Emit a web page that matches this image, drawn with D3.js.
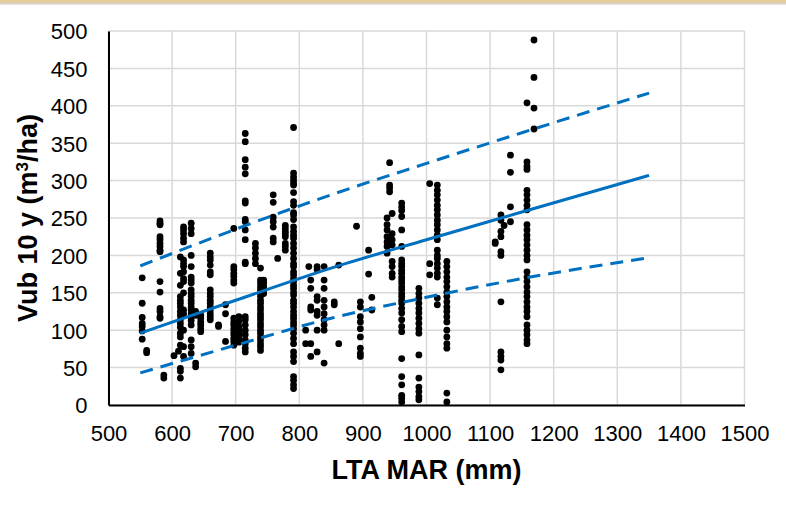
<!DOCTYPE html>
<html>
<head>
<meta charset="utf-8">
<script src="https://cdn.jsdelivr.net/npm/d3@7"></script>
<style>
  html, body { margin: 0; padding: 0; background: #ffffff; }
  svg { display: block; }
</style>
</head>
<body>
<svg id="chart" width="786" height="515"></svg>
<script>
// Axis ticks
const xTicks = [500, 600, 700, 800, 900, 1000, 1100, 1200, 1300, 1400, 1500];
const yTicks = [0, 50, 100, 150, 200, 250, 300, 350, 400, 450, 500];

// Long-term average mean annual rainfall of each site (mm)
const siteMAR = [
  553, 560, 581, 587, 603, 610, 613, 618, 630, 637, 645, 660, 673, 684, 697, 705,
  715, 731, 739, 744, 759, 766, 778, 791, 810, 815, 818, 828, 839, 855, 862, 890,
  896, 909, 914, 938, 942, 946, 961, 988, 1005, 1017, 1032, 1108, 1117, 1122, 1132,
  1158, 1169
];

// Stem volume after 10 years (m³/ha) of the plots at each site
const siteVub = [
  [170, 136, 117, 109, 105, 99, 88],
  [73, 70],
  [246, 243, 241, 225, 221, 216, 212, 207, 205, 165, 151, 129, 125, 118, 116],
  [40, 36],
  [66],
  [72],
  [198, 176, 160, 145, 140, 136, 131, 125, 120, 114, 109, 104, 96, 91, 80, 49, 45, 36],
  [238, 234, 229, 223, 218, 194, 189, 185, 178, 169, 165, 150, 127, 122, 100, 78, 65],
  [243, 236, 229, 200, 185, 171, 167, 163, 154, 149, 145, 140, 136, 131, 127, 122, 118, 113, 107, 87, 78, 69],
  [125, 120, 56, 51],
  [120, 116, 111, 107, 102, 98],
  [203, 198, 194, 187, 178, 174, 154, 149, 145, 140, 136, 131, 127, 122, 118, 114],
  [107, 105],
  [134, 122, 85],
  [236, 185, 181, 176, 172, 167, 163, 116, 111, 107, 102, 98, 94, 89, 85, 80],
  [118, 112, 105, 100, 96, 92, 88, 84],
  [363, 352, 328, 318, 309, 273, 270, 248, 245, 234, 221, 191, 189, 118, 114, 107, 100, 94, 87, 82, 76, 71],
  [216, 210, 203, 196, 189],
  [183, 167, 163, 158, 154, 149, 145, 140, 136, 131, 127, 122, 118, 114, 109, 105, 100, 96, 91, 87, 82, 78, 73],
  [167, 163, 158, 154, 149],
  [281, 271, 251, 245, 238, 223, 218],
  [196],
  [240, 236, 232, 229, 225, 216, 212, 207],
  [371, 310, 305, 301, 297, 294, 284, 272, 267, 257, 254, 248, 238, 232, 227, 223, 216, 210, 203, 196,
   189, 185, 178, 174, 169, 165, 160, 156, 151, 147, 140, 136, 131, 125, 120, 116, 111, 107, 102, 96,
   89, 82, 71, 65, 58, 38, 33, 27, 22],
  [100, 82],
  [185],
  [167, 156, 131, 127, 82, 65],
  [185, 181, 145, 140, 125, 120, 100, 71],
  [185, 167, 156, 140, 131, 122, 114, 107, 100, 56],
  [138, 134],
  [187, 82],
  [239],
  [138, 131, 118, 111, 102, 91, 76, 69, 65],
  [207, 175],
  [144, 127],
  [250, 241, 234, 225, 218, 212, 203],
  [324, 294, 290, 285],
  [256, 229, 221, 214, 192, 185, 176, 171],
  [270, 265, 260, 252, 234, 212, 194, 189, 185, 180, 176, 171, 167, 163, 158, 154, 149, 145, 140, 136,
   129, 123, 114, 105, 98, 62, 38, 27, 13, 9, 4],
  [156, 149, 143, 136, 129, 123, 116, 109, 102, 96, 67, 36, 24, 18, 11, 7],
  [296, 189, 174],
  [294, 287, 281, 274, 267, 261, 254, 247, 241, 234, 227, 221, 207, 200, 196, 189, 183, 176, 171, 143, 134],
  [192, 185, 178, 171, 165, 158, 151, 145, 138, 131, 125, 118, 111, 100, 91, 82, 76, 16, 4],
  [218, 216],
  [254, 247, 232, 225, 205, 200, 138, 71, 65, 60, 47],
  [240],
  [334, 311, 265, 245],
  [404, 325, 319, 315, 287, 281, 274, 267, 261, 241, 234, 227, 221, 214, 207, 200, 194, 178, 171, 165,
   158, 151, 145, 138, 131, 125, 118, 107, 100, 94, 87, 82],
  [488, 438, 397, 369]
];

// Fitted relation and its upper / lower bounds
const curveMAR = [550, 700, 850, 1000, 1150, 1350];
const fitVub   = [96, 140, 183, 221, 258, 307];
const upperVub = [186, 235, 281, 323, 364, 417];
const lowerVub = [43, 80, 116, 144, 169, 197];

const svg = d3.select("#chart");
const plotLeft = 108.5, plotRight = 744.5, plotTop = 31, plotBottom = 405;
const fontFamily = "Liberation Sans, Arial, sans-serif";

const x = d3.scaleLinear().domain([500, 1500]).range([plotLeft, plotRight]);
const y = d3.scaleLinear().domain([0, 500]).range([plotBottom, plotTop]);

// Decorative strip along the top of the frame
svg.append("rect").attr("x", 0).attr("y", 0).attr("width", 786).attr("height", 3)
  .attr("fill", "#e5cd9f");
svg.append("line").attr("x1", 0).attr("x2", 786).attr("y1", 3.8).attr("y2", 3.8)
  .attr("stroke", "#cfc8bc").attr("stroke-width", 1.2);

// Gridlines
const grid = svg.append("g").attr("stroke", "#d9d9d9").attr("stroke-width", 1.5);
grid.selectAll("line.h").data(yTicks).join("line").attr("class", "h")
  .attr("x1", plotLeft).attr("x2", plotRight)
  .attr("y1", d => y(d)).attr("y2", d => y(d));
grid.selectAll("line.v").data(xTicks).join("line").attr("class", "v")
  .attr("y1", plotTop).attr("y2", plotBottom)
  .attr("x1", d => x(d)).attr("x2", d => x(d));

// Axes
const xAxis = d3.axisBottom(x).tickValues(xTicks).tickFormat(d3.format("d"))
  .tickSize(0).tickPadding(0);
const yAxis = d3.axisLeft(y).tickValues(yTicks).tickFormat(d3.format("d"))
  .tickSize(0).tickPadding(0);

const gx = svg.append("g").attr("transform", `translate(0,${plotBottom})`).call(xAxis);
gx.select(".domain").attr("stroke", "#000").attr("stroke-width", 2);
gx.selectAll("text")
  .attr("font-family", fontFamily)
  .attr("font-size", 22).attr("fill", "#000")
  .attr("dy", 0).attr("y", 36);

const gy = svg.append("g").attr("transform", `translate(${plotLeft},0)`).call(yAxis);
gy.select(".domain").attr("stroke", "#000").attr("stroke-width", 2);
gy.selectAll("text")
  .attr("font-family", fontFamily)
  .attr("font-size", 22).attr("fill", "#000")
  .attr("x", -21).attr("dy", "0.36em");

// Plot points
const points = [];
siteMAR.forEach((m, i) => siteVub[i].forEach(v => points.push([m, v])));

svg.append("g").selectAll("circle").data(points).join("circle")
  .attr("cx", d => x(d[0])).attr("cy", d => y(d[1]))
  .attr("r", 3.4).attr("fill", "#000");

// Fitted line and bounds
const line = (vals) => d3.line()
  .x((d, i) => x(curveMAR[i]))
  .y(d => y(d))
  .curve(d3.curveMonotoneX)(vals);

svg.append("path").attr("d", line(upperVub))
  .attr("fill", "none").attr("stroke", "#0070c0").attr("stroke-width", 3)
  .attr("stroke-dasharray", "13,8");
svg.append("path").attr("d", line(lowerVub))
  .attr("fill", "none").attr("stroke", "#0070c0").attr("stroke-width", 3)
  .attr("stroke-dasharray", "13,8");
svg.append("path").attr("d", line(fitVub))
  .attr("fill", "none").attr("stroke", "#0070c0").attr("stroke-width", 3);

// Axis titles
svg.append("text")
  .attr("x", (plotLeft + plotRight) / 2).attr("y", 479)
  .attr("text-anchor", "middle")
  .attr("font-family", fontFamily)
  .attr("font-size", 27).attr("font-weight", "bold")
  .text("LTA MAR (mm)");

const yTitle = svg.append("text")
  .attr("transform", `translate(37,${(plotTop + plotBottom) / 2}) rotate(-90)`)
  .attr("text-anchor", "middle")
  .attr("font-family", fontFamily)
  .attr("font-size", 27).attr("font-weight", "bold");
yTitle.append("tspan").text("Vub 10 y (m");
yTitle.append("tspan").attr("font-size", 17).attr("baseline-shift", "super").text("3");
yTitle.append("tspan").text("/ha)");
</script>
</body>
</html>
